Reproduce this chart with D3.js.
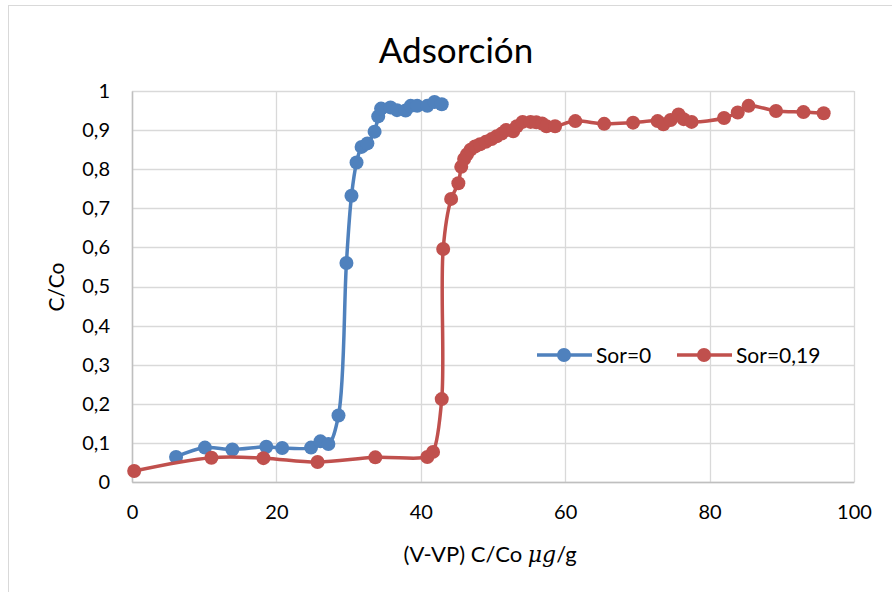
<!DOCTYPE html>
<html>
<head>
<meta charset="utf-8">
<script src="https://cdn.jsdelivr.net/npm/d3@7"></script>
<style>
  body { margin: 0; background: #fff; }
  text { font-family: Lato, "Open Sans", sans-serif; fill: #000; }
</style>
</head>
<body>
<script>
// Sor=0
var blueX = [6.1, 10.1, 13.9, 18.6, 20.8, 24.8, 26.1, 27.2, 28.6, 29.7, 30.4, 31.1, 31.8, 32.6, 33.6, 34.1, 34.5, 35.8, 36.7, 37.9, 38.6, 39.5, 40.9, 41.9, 42.9];
var blueY = [0.064, 0.088, 0.083, 0.090, 0.087, 0.088, 0.104, 0.097, 0.170, 0.560, 0.732, 0.817, 0.857, 0.866, 0.896, 0.935, 0.955, 0.958, 0.951, 0.950, 0.962, 0.962, 0.962, 0.972, 0.966];

// Sor=0,19
var redX = [0.3, 11.0, 18.2, 25.7, 33.7, 40.9, 41.7, 42.9, 43.1, 44.2, 45.2, 45.6, 46.0, 46.4, 46.9, 47.5, 48.2, 49.0, 49.8, 50.5, 51.2, 51.8, 52.8, 53.3, 54.1, 55.2, 56.0, 56.8, 57.4, 58.6, 61.4, 65.4, 69.4, 72.8, 73.6, 74.6, 75.7, 76.4, 77.5, 82.0, 83.9, 85.4, 89.2, 93.0, 95.8];
var redY = [0.028, 0.062, 0.061, 0.051, 0.063, 0.064, 0.077, 0.212, 0.596, 0.724, 0.764, 0.806, 0.826, 0.838, 0.850, 0.858, 0.864, 0.870, 0.877, 0.884, 0.891, 0.900, 0.897, 0.910, 0.921, 0.921, 0.920, 0.917, 0.910, 0.910, 0.923, 0.916, 0.919, 0.923, 0.915, 0.926, 0.940, 0.928, 0.921, 0.931, 0.945, 0.962, 0.949, 0.946, 0.943];

var xTicks = [0, 20, 40, 60, 80, 100];
var yTicks = [0, 0.1, 0.2, 0.3, 0.4, 0.5, 0.6, 0.7, 0.8, 0.9, 1];
var seriesNames = ["Sor=0", "Sor=0,19"];
var colors = ["#4F81BD", "#C0504D"];

var svgWidth = 892, svgHeight = 592;
var margin = {top: 91, right: 38, bottom: 110, left: 132};
var width = svgWidth - margin.left - margin.right;
var height = svgHeight - margin.top - margin.bottom;

var svg = d3.select("body")
    .append("svg")
    .attr("width", svgWidth)
    .attr("height", svgHeight);

// outer chart border
svg.append("rect")
    .attr("x", 8.5).attr("y", 5.5)
    .attr("width", 900).attr("height", 600)
    .attr("fill", "none")
    .attr("stroke", "#D9D9D9");

var g = svg.append("g")
    .attr("transform", "translate(" + margin.left + "," + margin.top + ")");

var x = d3.scaleLinear().domain([0, 100]).range([0, width]);
var y = d3.scaleLinear().domain([0, 1]).range([height, 0]);

// gridlines
g.append("g")
  .selectAll("line.h")
  .data(yTicks)
  .enter().append("line")
  .attr("x1", 0).attr("x2", width)
  .attr("y1", function(d){ return Math.round(y(d)) + 0.5; })
  .attr("y2", function(d){ return Math.round(y(d)) + 0.5; })
  .attr("stroke", "#D9D9D9").attr("stroke-width", 1.3);

g.append("g")
  .selectAll("line.v")
  .data(xTicks)
  .enter().append("line")
  .attr("y1", 0).attr("y2", height)
  .attr("x1", function(d){ return Math.round(x(d)) + 0.5; })
  .attr("x2", function(d){ return Math.round(x(d)) + 0.5; })
  .attr("stroke", "#D9D9D9").attr("stroke-width", 1.3);

// axes
var fmt = function(d){ return String(d).replace(".", ","); };

var xAxis = g.append("g")
    .attr("transform", "translate(0," + height + ")")
    .call(d3.axisBottom(x).tickValues(xTicks).tickSize(0).tickPadding(23).tickFormat(fmt));
xAxis.select(".domain").attr("stroke", "#BFBFBF").attr("stroke-width", 1.5);
xAxis.selectAll("text").style("font-size", "20px");

var yAxis = g.append("g")
    .call(d3.axisLeft(y).tickValues(yTicks).tickSize(0).tickPadding(22).tickFormat(fmt));
yAxis.select(".domain").attr("stroke", "#BFBFBF").attr("stroke-width", 1.5);
yAxis.selectAll("text").style("font-size", "20px");

// title
svg.append("text")
    .attr("x", 456).attr("y", 63)
    .attr("text-anchor", "middle")
    .style("font-size", "35px")
    .text("Adsorción");

// axis titles
svg.append("text")
    .attr("transform", "translate(64,287) rotate(-90)")
    .attr("text-anchor", "middle")
    .style("font-size", "21px")
    .text("C/Co");

var xt = svg.append("text")
    .attr("x", 490).attr("y", 562)
    .attr("text-anchor", "middle")
    .style("font-size", "22px");
xt.append("tspan").text("(V-VP) C/Co ");
xt.append("tspan").style("font-style", "italic").style("font-family", "'DejaVu Serif', serif").text("μg");
xt.append("tspan").text("/g");

// series
var series = [
  {name: seriesNames[0], color: colors[0], pts: blueX.map(function(d, i){ return [d, blueY[i]]; })},
  {name: seriesNames[1], color: colors[1], pts: redX.map(function(d, i){ return [d, redY[i]]; })}
];

var line = d3.line()
    .x(function(d){ return x(d[0]); })
    .y(function(d){ return y(d[1]); })
    .curve(d3.curveCatmullRom.alpha(0.5));

series.forEach(function(s){
  g.append("path")
    .datum(s.pts)
    .attr("fill", "none")
    .attr("stroke", s.color)
    .attr("stroke-width", 3.5)
    .attr("d", line);

  g.selectAll(null)
    .data(s.pts)
    .enter().append("circle")
    .attr("cx", function(d){ return x(d[0]); })
    .attr("cy", function(d){ return y(d[1]); })
    .attr("r", 7)
    .attr("fill", s.color);
});

// legend
var legendX = [537, 677];
var leg = svg.append("g");
series.forEach(function(s, i){
  var lx = legendX[i], ly = 355;
  leg.append("line")
    .attr("x1", lx).attr("x2", lx + 55)
    .attr("y1", ly).attr("y2", ly)
    .attr("stroke", s.color).attr("stroke-width", 3.5);
  leg.append("circle")
    .attr("cx", lx + 27).attr("cy", ly).attr("r", 7)
    .attr("fill", s.color);
  leg.append("text")
    .attr("x", lx + 59).attr("y", ly + 7.5)
    .style("font-size", "21px")
    .text(s.name);
});
</script>
</body>
</html>
